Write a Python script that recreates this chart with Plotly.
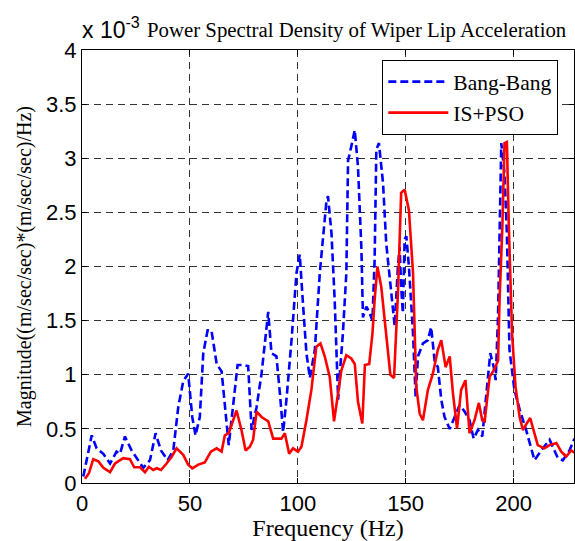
import plotly.graph_objects as go

# Bang-Bang (blue dashed), magnitude in units of 1e-3
freq_bang = [0.6, 4.5, 6.8, 9.9, 13.0, 16.0, 17.6, 19.9, 23.0, 26.0, 28.4, 31.5, 34.1, 36.6, 39.7,
             42.3, 44.6, 46.9, 49.2, 51.1, 52.6, 54.6, 56.2, 58.2, 60.0, 62.4, 64.7, 68.0, 70.0,
             72.1, 74.7, 77.0, 78.6, 80.9, 83.2, 86.3, 87.8, 90.1, 91.7, 93.2, 94.7, 97.1, 99.4,
             100.9, 102.5, 104.0, 105.6, 107.9, 110.2, 111.7, 113.3, 114.0, 115.6, 117.1, 118.7,
             119.7, 120.9, 122.5, 123.3, 124.8, 126.4, 127.9, 129.5, 130.2, 131.8, 133.3, 134.6,
             135.6, 136.4, 137.6, 139.5, 141.0, 143.3, 144.9, 146.4, 147.2, 147.9, 148.7, 149.5,
             150.3, 151.5, 153.4, 154.6, 155.7, 158.0, 160.3, 161.8, 163.4, 164.9, 166.5, 168.0,
             170.4, 172.7, 175.0, 177.3, 179.6, 181.5, 183.5, 185.5, 187.4, 189.2, 190.8, 191.7,
             192.8, 193.5, 194.3, 195.8, 196.9, 198.1, 200.4, 202.8, 205.8, 209.7, 212.8, 216.7,
             220.5, 222.8, 225.9, 228.2]
psd_bang = [0.06, 0.44, 0.32, 0.27, 0.18, 0.29, 0.27, 0.43, 0.30, 0.21, 0.14, 0.21, 0.46, 0.30, 0.21,
            0.30, 0.70, 0.94, 1.01, 0.61, 0.44, 0.61, 1.20, 1.41, 1.41, 1.10, 1.03, 0.35, 0.74,
            1.09, 1.09, 1.08, 0.49, 0.70, 1.01, 1.58, 1.20, 1.17, 0.83, 0.47, 0.76, 1.32, 1.94,
            2.11, 1.63, 1.20, 0.97, 1.23, 1.94, 2.27, 2.61, 2.65, 2.31, 1.69, 0.77,
            1.07, 1.38, 1.94, 2.98, 3.11, 3.26, 2.92, 2.15, 1.53, 1.63, 1.57, 1.50,
            2.06, 3.08, 3.14, 2.77, 2.21, 1.75, 1.45, 2.00, 2.18, 1.81, 1.57, 2.25,
            2.28, 2.00, 1.38, 0.80, 1.17, 1.29, 1.32, 1.44, 1.13, 1.07, 0.77, 0.61,
            0.50, 0.61, 0.72, 0.66, 0.58, 0.41, 0.49, 0.43, 0.83, 1.20, 1.07, 0.95,
            1.54, 2.30, 3.14, 2.86, 2.30, 1.23, 0.86, 0.68, 0.49, 0.21, 0.30, 0.40,
            0.23, 0.21, 0.30, 0.41]

# IS+PSO (red solid), magnitude in units of 1e-3
freq_pso = [1.4, 3.2, 5.2, 7.6, 9.9, 13.0, 15.3, 19.1, 22.2, 24.2, 26.9, 29.2, 31.0, 33.0, 34.6,
            36.6, 39.2, 41.5, 43.8, 46.9, 49.2, 51.1, 53.9, 56.9, 59.7, 62.4, 64.7, 66.2, 68.0,
            71.6, 73.9, 75.8, 77.8, 79.3, 80.9, 83.2, 86.3, 88.6, 92.4, 94.0, 96.0, 97.8, 100.1,
            101.7, 104.0, 106.3, 108.6, 110.5, 112.5, 114.8, 116.8, 118.7, 120.2, 122.5, 124.8,
            126.4, 127.9, 129.9, 131.1, 133.1, 134.6, 135.6, 136.9, 138.7, 141.0, 142.9, 144.6,
            146.4, 147.9, 149.5, 151.5, 153.4, 154.9, 156.5, 158.0, 160.3, 162.6, 164.9, 166.5,
            168.5, 170.4, 171.9, 173.8, 175.7, 177.7, 179.6, 181.9, 183.9, 185.5, 186.6, 188.9,
            190.8, 192.8, 193.5, 194.8, 195.8, 196.9, 197.8, 199.3, 200.9, 202.8, 204.3, 205.8,
            207.7, 211.2, 214.3, 216.7, 219.8, 222.1, 224.4, 226.7, 228.2]
psd_pso = [0.04, 0.09, 0.22, 0.20, 0.14, 0.10, 0.18, 0.23, 0.22, 0.145, 0.145, 0.10, 0.15, 0.12, 0.136,
           0.12, 0.18, 0.24, 0.32, 0.26, 0.17, 0.136, 0.17, 0.19, 0.29, 0.32, 0.29, 0.44, 0.46,
           0.67, 0.49, 0.30, 0.335, 0.40, 0.66, 0.61, 0.57, 0.41, 0.41, 0.46, 0.27, 0.32, 0.29,
           0.335, 0.58, 0.86, 1.26, 1.29, 1.17, 0.98, 0.57, 0.83, 1.04, 1.18, 1.15,
           1.10, 0.75, 0.55, 1.09, 1.10, 1.38, 1.69, 2.00, 1.81, 1.38, 1.00, 0.97,
           1.75, 2.68, 2.71, 2.52, 1.94, 0.89, 0.64, 0.58, 0.86, 1.01, 1.23, 1.32,
           1.07, 1.17, 0.83, 0.505, 0.86, 0.95, 0.46, 0.58, 0.74, 0.58, 0.57, 0.98,
           1.04, 1.13, 1.69, 2.37, 3.14, 3.15, 2.37, 1.38, 0.89, 0.61, 0.49, 0.54,
           0.60, 0.35, 0.32, 0.35, 0.37, 0.29, 0.245, 0.30, 0.28]

x_ticks = [0, 50, 100, 150, 200]
y_ticks = [0, 0.5, 1, 1.5, 2, 2.5, 3, 3.5, 4]
y_tick_text = ["0", "0.5", "1", "1.5", "2", "2.5", "3", "3.5", "4"]

SANS = "Liberation Sans, Arial, sans-serif"
SERIF = "Liberation Serif, Times New Roman, serif"

fig = go.Figure()
fig.add_trace(go.Scatter(x=freq_bang, y=psd_bang, mode="lines", name="Bang-Bang",
                         line=dict(color="#0000ff", width=2.6, dash="8px,4px")))
fig.add_trace(go.Scatter(x=freq_pso, y=psd_pso, mode="lines", name="IS+PSO",
                         line=dict(color="#ff0000", width=2.6)))

fig.update_layout(
    width=575, height=541,
    margin=dict(l=82, r=1, t=50, b=58),
    paper_bgcolor="white", plot_bgcolor="white",
    showlegend=True,
    legend=dict(x=0.61, y=0.977, xanchor="left", yanchor="top",
                bgcolor="white", bordercolor="black", borderwidth=1.2,
                font=dict(family=SERIF, size=21.5, color="black"),
                tracegroupgap=0, itemwidth=60),
    annotations=[
        dict(text="x 10<sup>-3</sup>", x=0, y=1.0, xref="paper", yref="paper",
             xanchor="left", yanchor="bottom", showarrow=False, xshift=-2, yshift=5,
             font=dict(family=SANS, size=23, color="black")),
        dict(text="Power Spectral Density of Wiper Lip Acceleration", x=0.99, y=1.0,
             xref="paper", yref="paper", xanchor="right", yanchor="bottom", showarrow=False,
             yshift=6, font=dict(family=SERIF, size=20.8, color="black")),
    ],
)

fig.update_xaxes(range=[0, 228], tickvals=x_ticks, ticks="inside", ticklen=5,
                 tickcolor="black", showline=True, linecolor="black", linewidth=1.2,
                 mirror="ticks", showgrid=True, gridcolor="#333333", griddash="7px,5px",
                 gridwidth=1, zeroline=False,
                 tickfont=dict(family=SANS, size=22, color="black"),
                 title=dict(text="Frequency (Hz)", standoff=0,
                            font=dict(family=SERIF, size=24, color="black")))
fig.update_yaxes(range=[0, 4], tickvals=y_ticks, ticktext=y_tick_text, ticks="inside",
                 ticklen=5, tickcolor="black", showline=True, linecolor="black", linewidth=1.2,
                 mirror="ticks", showgrid=True, gridcolor="#333333", griddash="7px,5px",
                 gridwidth=1, zeroline=False,
                 tickfont=dict(family=SANS, size=22, color="black"),
                 title=dict(text="Magnitude((m/sec/sec)*(m/sec/sec)/Hz)", standoff=8,
                            font=dict(family=SERIF, size=20, color="black")))

fig.write_html("out.html", config={"displayModeBar": False},
               post_script="document.body.style.margin='0';document.body.style.overflow='hidden';")
